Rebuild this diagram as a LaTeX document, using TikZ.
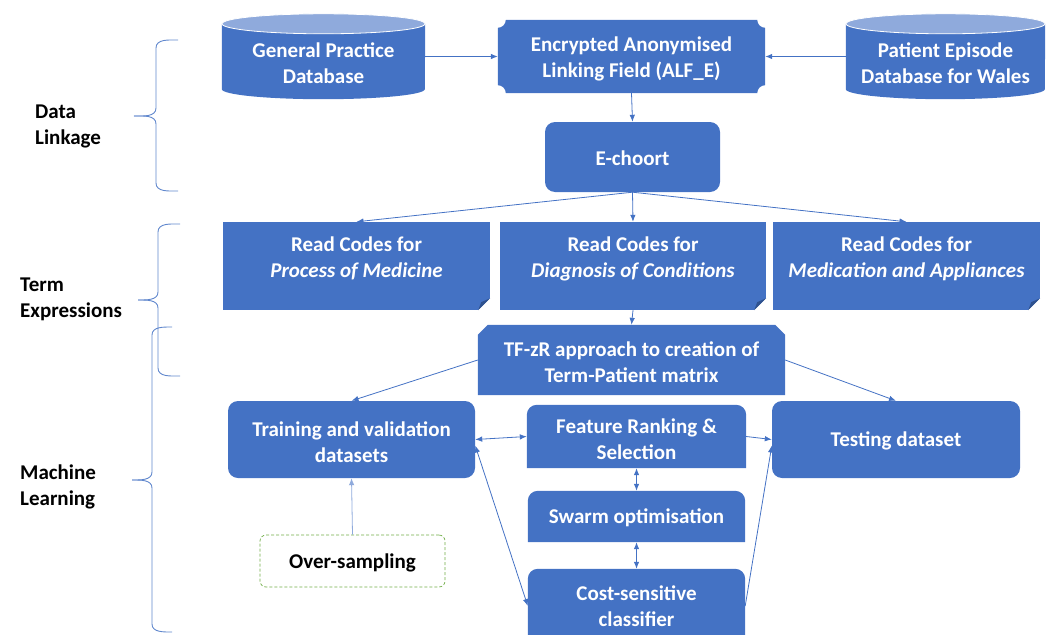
\documentclass[tikz,border=0pt]{standalone}
\usepackage{fontspec}
\setmainfont{Carlito}
\usetikzlibrary{arrows.meta,positioning,calc,backgrounds}
\definecolor{blu}{HTML}{4472C4}
\definecolor{lblu}{HTML}{8FAADC}
\definecolor{dblu}{HTML}{2F528F}
\definecolor{grn}{HTML}{70AD47}

\begin{document}
\begin{tikzpicture}[x=1pt,y=1pt,
  every node/.style={font=\fontsize{21}{26}\selectfont\bfseries,align=center,inner sep=0pt,text height=46pt},
  one/.style={text height=18pt},
  wtxt/.style={text=white},
  rbox/.style={wtxt,fill=blu,rounded corners=10pt},
  doc/.style={wtxt,fill=blu,minimum width=267pt,minimum height=88pt,text height=41pt,text depth=18pt},
  arr/.style={draw=blu,line width=0.8pt,-{Latex[length=7pt,width=5.5pt]}},
  darr/.style={arr,{Latex[length=7pt,width=5.5pt]}-{Latex[length=7pt,width=5.5pt]}},
  brc/.style={draw=blu!85!white,line width=0.9pt}]
\useasboundingbox (0,0) rectangle (1051,-634);

\node[wtxt,minimum width=203pt,minimum height=76pt] (gp) at (323.5,-61) {General Practice\\Database};
\node[wtxt,minimum width=267pt,minimum height=73pt] (alf) at (631.5,-56.5) {Encrypted Anonymised\\Linking Field (ALF\_E)};
\node[wtxt,minimum width=199pt,minimum height=76pt] (ped) at (945.5,-61) {Patient Episode\\Database for Wales};
\node[rbox,one,minimum width=175pt,minimum height=70pt] (echo) at (632.5,-157) {E-choort};

\node[doc] (pom) at (356.5,-266) {Read Codes for\\\textit{Process of Medicine}};
\node[doc,minimum width=266pt] (doc) at (633,-266) {Read Codes for\\\textit{Diagnosis of Conditions}};
\node[doc] (med) at (906.5,-266) {Read Codes for\\\textit{Medication and Appliances}};

\node[wtxt,minimum width=307pt,minimum height=70pt] (tfzr) at (631.5,-360) {TF-zR approach to creation of\\Term-Patient matrix};
\node[rbox,minimum width=247pt,minimum height=77pt] (train) at (351.5,-439.5) {Training and validation\\datasets};
\node[wtxt,minimum width=219pt,minimum height=63pt] (feat) at (636.5,-436.5) {Feature Ranking \&\\Selection};
\node[rbox,one,minimum width=248pt,minimum height=77pt] (test) at (896,-439.5) {Testing dataset};
\node[wtxt,one,minimum width=217pt,minimum height=51pt] (swarm) at (636.5,-516.5) {Swarm optimisation};
\node[wtxt,minimum width=217pt,minimum height=70pt] (cost) at (636.5,-604) {Cost-sensitive\\classifier};
\node[one,draw=grn,dash pattern=on 3pt off 2pt,line width=0.7pt,rounded corners=6pt,minimum width=185pt,minimum height=52pt] (over) at (352.5,-561) {Over-sampling};

\node[anchor=west,align=left] (dl) at (35,-123) {Data\\Linkage};
\node[anchor=west,align=left] (te) at (20,-296) {Term\\Expressions};
\node[anchor=west,align=left] (ml) at (20,-484) {Machine\\Learning};

\begin{scope}[on background layer]
\foreach \n/\r in {gp/101.5,ped/99.5} {
  \fill[blu] ([yshift=-1]\n.north west) -- ([yshift=10]\n.south west) arc[start angle=180,end angle=360,x radius=\r,y radius=10] -- ([yshift=-1]\n.north east) -- cycle;
  \filldraw[fill=lblu,draw=white,line width=0.8pt] ([yshift=-1]\n.north) ellipse[x radius=\r,y radius=10];
}
\fill[blu] ([xshift=8]alf.north west) -- ([xshift=-8]alf.north east) arc[start angle=180,end angle=270,radius=8]
  -- ([yshift=8]alf.south east) arc[start angle=90,end angle=180,radius=8]
  -- ([xshift=8]alf.south west) arc[start angle=0,end angle=90,radius=8]
  -- ([yshift=-8]alf.north west) arc[start angle=270,end angle=360,radius=8] -- cycle;
\fill[blu] (tfzr.south west) -- ([yshift=-10]tfzr.north west) -- ([xshift=10]tfzr.north west)
  -- ([xshift=-10]tfzr.north east) -- ([yshift=-10]tfzr.north east) -- (tfzr.south east) -- cycle;
\foreach \n in {feat,swarm,cost}
  \fill[blu] (\n.south west) -- ([yshift=-10]\n.north west) arc[start angle=180,end angle=90,radius=10]
    -- ([xshift=-10]\n.north east) arc[start angle=90,end angle=0,radius=10] -- (\n.south east) -- cycle;
\end{scope}

\foreach \n in {pom,doc,med} {
  \fill[white] ([xshift=-12]\n.south east) -- (\n.south east) -- ([yshift=12]\n.south east) -- cycle;
  \fill[dblu] ([xshift=-12]\n.south east) -- ([xshift=-9,yshift=8]\n.south east) -- ([yshift=12]\n.south east) -- ([xshift=-7,yshift=5]\n.south east) -- cycle;
}

\draw[arr] (gp.east |- alf.west) -- (alf.west);
\draw[arr] (ped.west |- alf.east) -- (alf.east);
\draw[arr] (alf.south) -- (echo.north);
\foreach \n in {pom,doc,med}
  \draw[arr] (echo.south) -- (\n.north);
\draw[arr] (doc.south) -- (tfzr.north);
\draw[arr] (tfzr.west) -- (train.north);
\draw[arr] (tfzr.east) -- (test.north);
\draw[darr] (train.east) -- (feat.west);
\draw[arr] (feat.east) -- (test.west);
\draw[darr] (feat.south) -- (swarm.north);
\draw[darr] (swarm.south) -- (cost.north);
\draw[darr] ([yshift=-6]train.east) -- ([yshift=-2]cost.west);
\draw[arr] ([yshift=-2]cost.east) -- ([yshift=-6]test.west);
\draw[arr,draw=lblu] (over.north) -- (train.south);

\draw[brc] (178,-40) to[out=180,in=90] (156,-48) -- (156,-108) to[out=270,in=0] (134,-116);
\draw[brc] (134,-116) to[out=0,in=90] (156,-124) -- (156,-183) to[out=270,in=180] (178,-191);
\draw[brc] (180,-224) to[out=180,in=90] (158,-232) -- (158,-292) to[out=270,in=0] (138,-300);
\draw[brc] (138,-300) to[out=0,in=90] (158,-308) -- (158,-368) to[out=270,in=180] (180,-376);
\draw[brc] (172,-327) to[out=180,in=90] (152,-335) -- (152,-472) to[out=270,in=0] (132,-480);
\draw[brc] (132,-480) to[out=0,in=90] (152,-488) -- (152,-624) to[out=270,in=180] (172,-632);
\end{tikzpicture}
\end{document}
